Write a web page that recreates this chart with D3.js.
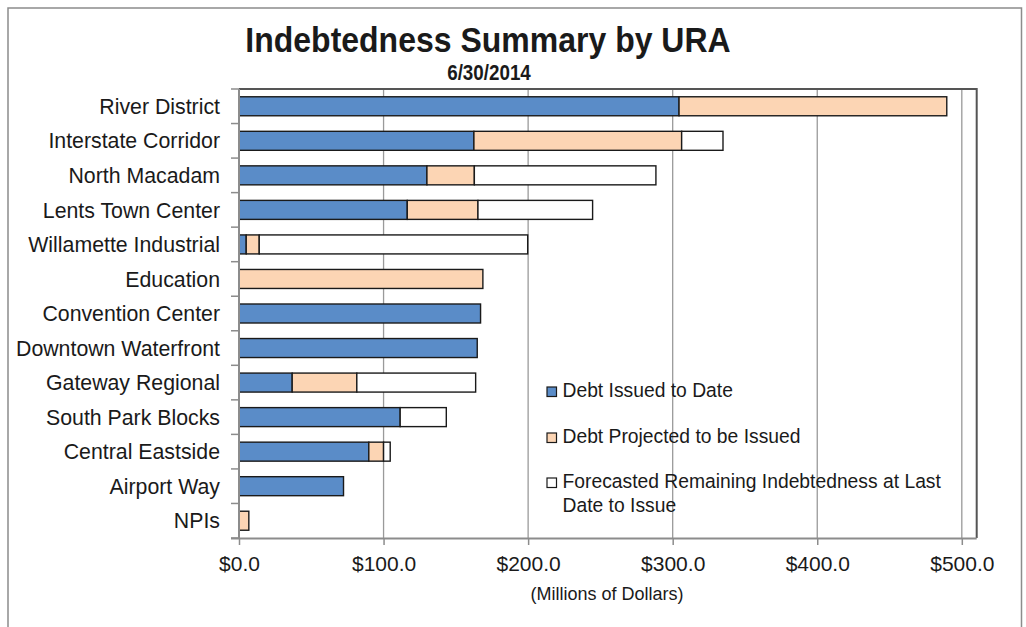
<!DOCTYPE html>
<html>
<head>
<meta charset="utf-8">
<script src="https://cdn.jsdelivr.net/npm/d3@7"></script>
<style>
  html, body { margin: 0; padding: 0; background: #fff; }
  svg { display: block; font-family: "Liberation Sans", Arial, sans-serif; }
</style>
</head>
<body>
<svg id="chart" width="1026" height="627"></svg>
<script>
// Urban renewal areas, top to bottom
const categories = [
  "River District", "Interstate Corridor", "North Macadam", "Lents Town Center",
  "Willamette Industrial", "Education", "Convention Center", "Downtown Waterfront",
  "Gateway Regional", "South Park Blocks", "Central Eastside", "Airport Way", "NPIs"
];
// Millions of dollars
const debtIssued    = [304.4, 162.5, 130.0, 116.4,   5.0,   0.0, 167.1, 164.8, 36.8, 111.5, 89.8, 72.3, 0.0];
const debtProjected = [185.2, 143.7,  32.8,  48.9,   9.0, 168.7,   0.0,   0.0, 44.7,   0.0, 10.2,  0.0, 6.8];
const debtRemaining = [  0.0,  28.6, 125.6,  79.3, 185.7,   0.0,   0.0,   0.0, 82.2,  31.9,  4.6,  0.0, 0.0];

const seriesNames = [
  "Debt Issued to Date",
  "Debt Projected to be Issued",
  "Forecasted Remaining Indebtedness at Last Date to Issue"
];
const seriesColors = ["#5a8cc8", "#fcd5b4", "#ffffff"];
const xTicks = [0, 100, 200, 300, 400, 500];

const svg = d3.select("#chart");
const plot = { left: 239, top: 89, right: 976.7, bottom: 538 };

// Outer frame
svg.append("path")
  .attr("d", `M8,627 V8 H1021.5 V627`)
  .attr("fill", "none").attr("stroke", "#8c8c8c").attr("stroke-width", 1.5);

// Titles
svg.append("text")
  .attr("transform", "translate(488,52) scale(1,1.12)")
  .attr("text-anchor", "middle").attr("font-weight", "bold")
  .attr("font-size", 32).attr("fill", "#1a1a1a")
  .text("Indebtedness Summary by URA");
svg.append("text")
  .attr("transform", "translate(489,80) scale(1,1.22)")
  .attr("text-anchor", "middle").attr("font-weight", "bold")
  .attr("font-size", 18.8).attr("fill", "#1a1a1a")
  .text("6/30/2014");

const x = d3.scaleLinear().domain([0, 510.3]).range([plot.left, plot.right]);
const y = d3.scaleBand().domain(categories).range([plot.top, plot.bottom]).paddingInner(0.45).paddingOuter(0.225);
const yBand = d3.scaleBand().domain(categories).range([plot.top, plot.bottom]);

// Vertical gridlines
svg.append("g").selectAll("line").data(xTicks.slice(1)).join("line")
  .attr("x1", d => x(d)).attr("x2", d => x(d))
  .attr("y1", plot.top).attr("y2", plot.bottom)
  .attr("stroke", "#9a9a9a").attr("stroke-width", 1.3);

// Plot frame: top and right edges
svg.append("path")
  .attr("d", `M${plot.left},${plot.top} H${plot.right} V${plot.bottom}`)
  .attr("fill", "none").attr("stroke", "#555").attr("stroke-width", 2);

// Stacked bars
const rows = categories.map((c, i) => ({
  cat: c, vals: [debtIssued[i], debtProjected[i], debtRemaining[i]]
}));
const segs = [];
rows.forEach(r => {
  let acc = 0;
  r.vals.forEach((v, k) => {
    if (v > 0) segs.push({ cat: r.cat, k, x0: acc, x1: acc + v });
    acc += v;
  });
});
svg.append("g").selectAll("rect").data(segs).join("rect")
  .attr("x", d => x(d.x0))
  .attr("y", d => y(d.cat))
  .attr("width", d => x(d.x1) - x(d.x0))
  .attr("height", y.bandwidth())
  .attr("fill", d => seriesColors[d.k])
  .attr("stroke", "#1a1a1a").attr("stroke-width", 1.4);

// Category axis
const yAxis = svg.append("g").attr("transform", `translate(${plot.left},0)`);
yAxis.append("line")
  .attr("x1", 0).attr("x2", 0).attr("y1", plot.top).attr("y2", plot.bottom)
  .attr("stroke", "#8c8c8c").attr("stroke-width", 2);
const bounds = categories.map(c => yBand(c)).concat([plot.bottom]);
yAxis.selectAll("line.tick").data(bounds).join("line").attr("class", "tick")
  .attr("x1", -8).attr("x2", 0).attr("y1", d => d).attr("y2", d => d)
  .attr("stroke", "#8c8c8c").attr("stroke-width", 1.5);
yAxis.selectAll("text").data(categories).join("text")
  .attr("x", -19).attr("y", d => yBand(d) + yBand.bandwidth() / 2)
  .attr("dy", "0.36em").attr("text-anchor", "end")
  .attr("font-size", 21.3).attr("fill", "#1a1a1a")
  .text(d => d);

// Value axis
const xAxis = svg.append("g")
  .attr("transform", `translate(0,${plot.bottom})`)
  .call(d3.axisBottom(x).tickValues(xTicks).tickSize(7).tickSizeOuter(0)
    .tickFormat(d => "$" + d3.format(".1f")(d)));
xAxis.select(".domain").attr("stroke", "#8c8c8c").attr("stroke-width", 2)
  .attr("d", `M${plot.left - 8},0.5H${plot.right}`);
xAxis.selectAll(".tick line").attr("stroke", "#8c8c8c").attr("stroke-width", 1.5);
xAxis.selectAll(".tick text")
  .attr("y", 33).attr("dy", 0)
  .attr("font-size", 21).attr("fill", "#1a1a1a")
  .attr("font-family", "Liberation Sans, Arial, sans-serif");

svg.append("text")
  .attr("x", 607).attr("y", 600)
  .attr("text-anchor", "middle").attr("font-size", 18).attr("fill", "#1a1a1a")
  .text("(Millions of Dollars)");

// Legend
const legendRows = [
  { k: 0, lines: [seriesNames[0]], y: 397 },
  { k: 1, lines: [seriesNames[1]], y: 443 },
  { k: 2, lines: ["Forecasted Remaining Indebtedness at Last", "Date to Issue"], y: 488 }
];
const legend = svg.append("g");
legendRows.forEach(r => {
  legend.append("rect")
    .attr("x", 547).attr("y", r.y - 10).attr("width", 9.5).attr("height", 9.5)
    .attr("fill", seriesColors[r.k]).attr("stroke", "#1a1a1a").attr("stroke-width", 1.2);
  const t = legend.append("text")
    .attr("x", 562.5).attr("y", r.y)
    .attr("font-size", 19.3).attr("fill", "#1a1a1a");
  r.lines.forEach((ln, i) => {
    t.append("tspan").attr("x", 562.5).attr("dy", i === 0 ? 0 : 23.5).text(ln);
  });
});
</script>
</body>
</html>
